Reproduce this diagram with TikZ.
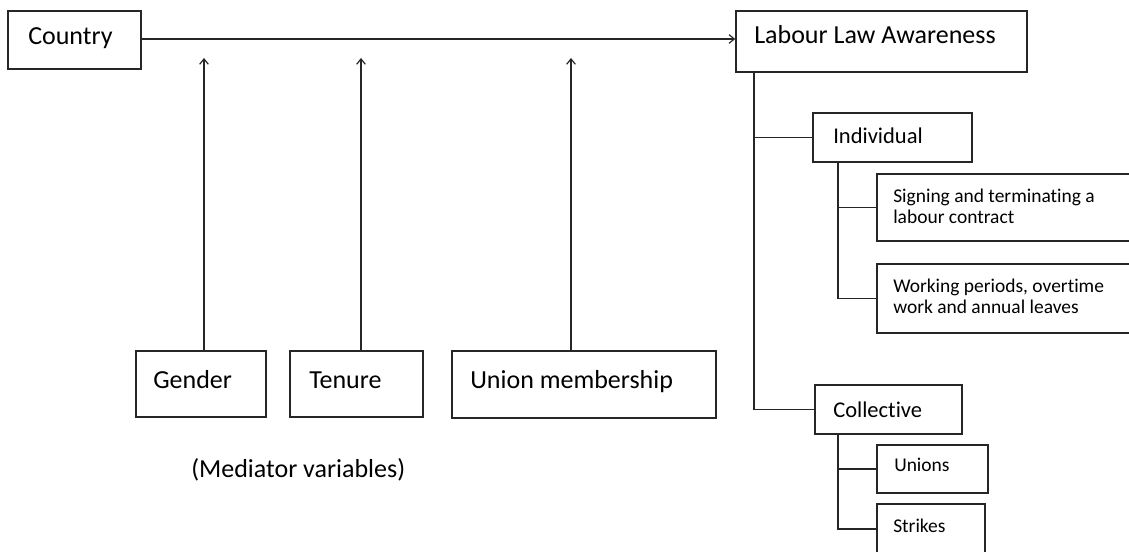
\documentclass[tikz,border=0pt]{standalone}
\usepackage{fontspec}
\setmainfont{Carlito}[Ligatures=NoCommon]
\usetikzlibrary{fit,arrows.meta}
\begin{document}
\begin{tikzpicture}[x=0.75pt,y=-0.75pt,
  box/.style={draw=black!85, line width=1.1pt, inner sep=0pt, fill=none},
  big/.style={anchor=base west, inner sep=0pt, font=\fontsize{19.5}{24}\selectfont},
  mid/.style={anchor=base west, inner sep=0pt, font=\fontsize{16.9}{20}\selectfont},
  small/.style={anchor=base west, inner sep=0pt, align=left, font=\fontsize{14.6}{16}\selectfont},
  conn/.style={draw=black!85, line width=0.9pt},
  arr/.style={conn, -{Straight Barb[length=4pt,width=6.5pt]}}]
\useasboundingbox (0,0) rectangle (1129,552);
\fill[white] (0,0) rectangle (1129,552);
% boxes
\node[box, fit={(8,11) (141,69)}] (country) {};
\node[box, fit={(736,11) (1027,72)}] (lla) {};
\node[box, fit={(813,113) (972,162)}] (indiv) {};
\node[box, fit={(877,174) (1140,241)}] (sign) {};
\node[box, fit={(877,264) (1140,333)}] (work) {};
\node[box, fit={(815,385) (962,434)}] (coll) {};
\node[box, fit={(877,445) (988,493)}] (unions) {};
\node[box, fit={(877,504) (985,560)}] (strikes) {};
\node[box, fit={(136,351) (266,417)}] (gender) {};
\node[box, fit={(290,351) (423,417)}] (tenure) {};
\node[box, fit={(452,351) (716,418)}] (union) {};
% texts
\node[big] (tcountry) at (28,45) {Country};
\node[big] (tlla) at (754,44) {Labour Law Awareness};
\node[mid] (tindiv) at (833,144) {Individual};
\node[small] (tsign) at (893,224) {Signing and terminating a\\labour contract};
\node[small] (twork) at (893,314) {Working periods, overtime\\work and annual leaves};
\node[mid] (tcoll) at (833,417) {Collective};
\node[small] (tunions) at (894,471) {Unions};
\node[small] (tstrikes) at (893,532) {Strikes};
\node[big] (tgender) at (153,389) {Gender};
\node[big] (ttenure) at (309,389) {Tenure};
\node[big] (tunion) at (470,389) {Union membership};
\node[big] (tmed) at (191,478) {(Mediator variables)};
% connectors
\coordinate (ga) at (204,58);
\coordinate (ta) at (361,58);
\coordinate (ua) at (571,58);
\draw[arr] (country.east |- 0,39) -- (lla.west |- 0,39);
\draw[arr] (gender.north -| ga) -- (ga);
\draw[arr] (tenure.north -| ta) -- (ta);
\draw[arr] (union.north -| ua) -- (ua);
\coordinate (t1) at (754,72);
\coordinate (t2) at (838,0);
\draw[conn] (lla.south -| t1) |- (coll.west);
\draw[conn] (indiv.west -| t1) -- (indiv.west);
\draw[conn] (indiv.south -| t2) |- (work.west);
\draw[conn] (sign.west -| t2) -- (sign.west);
\draw[conn] (coll.south -| t2) |- (strikes.west |- 0,529);
\draw[conn] (unions.west -| t2) -- (unions.west);
\end{tikzpicture}
\end{document}
